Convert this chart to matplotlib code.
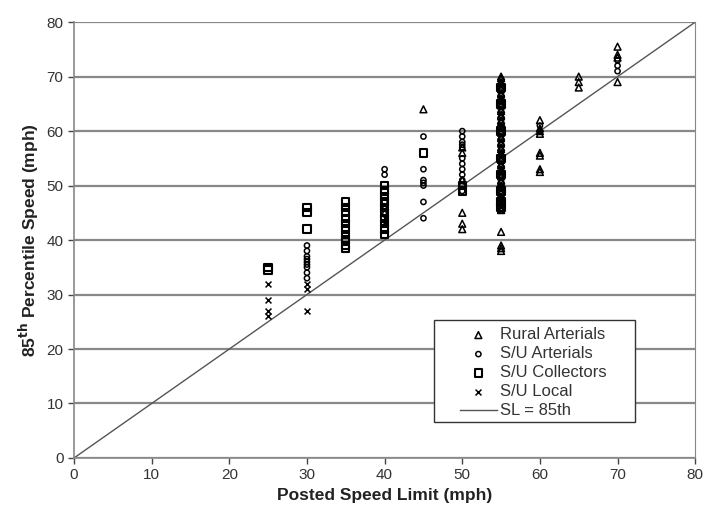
import matplotlib.pyplot as plt
from matplotlib.patches import Rectangle
import numpy as np

plt.rcParams['font.family'] = ['Liberation Sans', 'DejaVu Sans']

# Rural Arterials (triangles)
ra_x = [40, 40, 45] + [50] * 6 + [55] * 55 + [60] * 8 + [65] * 3 + [70] * 4
ra_y = [46, 45, 64,
        57, 56, 51, 45, 43, 42,
        70, 69, 68, 67, 66, 65, 64, 63, 62, 61, 60, 59, 58, 57, 56, 55, 54, 53,
        52, 51, 50, 49, 48, 47, 46, 45.5, 41.5, 39, 38.5, 38,
        69.7, 68.7, 67.7, 66.7, 65.7, 64.7, 63.7, 62.7, 61.7, 60.7, 59.7, 58.7,
        57.7, 56.7, 55.7, 54.7, 53.7, 52.7, 51.7, 50.7, 49.7, 48.7, 47.7, 46.7, 45.7,
        62, 60.5, 60, 59.5, 56, 55.5, 53, 52.5,
        70, 69, 68,
        75.5, 74, 73.5, 69]

# S/U Arterials (circles)
sa_x = [30] * 9 + [40] * 3 + [45] * 7 + [50] * 12 + [55] * 25 + [60] * 2 + [70] * 3
sa_y = [39, 38, 37, 36.5, 36, 35.5, 35, 34, 33,
        53, 52, 47,
        59, 53, 51, 50.5, 50, 47, 44,
        60, 59, 58, 57.5, 57, 55, 54, 53, 52, 51, 50, 49,
        69.5, 68.5, 67.5, 66.5, 65.5, 64.5, 63.5, 62.5, 61.5, 60.5, 59.5, 58.5,
        57.5, 56.5, 55.5, 54.5, 53.5, 52.5, 51.5, 50.5, 49.5, 48.5, 47.5, 46.5, 45.5,
        61, 60,
        73, 72, 71]

# S/U Collectors (squares)
sc_x = [25] * 2 + [30] * 3 + [35] * 10 + [40] * 10 + [45] + [50] * 2 + [55] * 8
sc_y = [35, 34.5,
        46, 45, 42,
        47, 46, 45, 44, 43, 42, 41, 40, 39, 38.5,
        50, 49, 48, 47, 46, 45, 44, 43, 42, 41,
        56,
        50, 49,
        68, 65, 60, 55, 52, 49, 47, 46]

# S/U Local (x)
sl_x = [25, 25, 25, 25, 30, 30, 30, 40, 40, 55, 55]
sl_y = [32, 29, 27, 26, 32, 31, 27, 44, 43, 47, 46]

fig = plt.figure(figsize=(7.07, 5.27), dpi=100)
ax = fig.add_axes([0.1047, 0.131, 0.8786, 0.827])

ax.scatter(ra_x, ra_y, marker='^', s=24, facecolors='none', edgecolors='black', linewidths=1.1, label='Rural Arterials', zorder=3)
ax.scatter(sa_x, sa_y, marker='o', s=14, facecolors='none', edgecolors='black', linewidths=1.1, label='S/U Arterials', zorder=3)
ax.scatter(sc_x, sc_y, marker='s', s=28, facecolors='none', edgecolors='black', linewidths=1.5, label='S/U Collectors', zorder=3)
ax.scatter(sl_x, sl_y, marker='x', s=18, color='black', linewidths=1.1, label='S/U Local', zorder=3)
ax.plot([0, 80], [0, 80], color='#555555', lw=1.0, label='SL = 85th', zorder=2)

ax.set_xlim(0, 80)
ax.set_ylim(0, 80)
ax.set_xticks(np.arange(0, 81, 10))
ax.set_yticks(np.arange(0, 81, 10))
ax.yaxis.grid(True, color='#888888', lw=1.6)
ax.set_axisbelow(True)
ax.spines['top'].set_visible(False)
for s in ['left', 'bottom', 'right']:
    ax.spines[s].set_color('#888888')
    ax.spines[s].set_linewidth(1.2)
ax.spines['right'].set_linewidth(0.8)
ax.tick_params(colors='#444444', labelsize=11, length=4, width=1, labelcolor='#333333')

ax.set_xlabel('Posted Speed Limit (mph)', fontsize=12.5, fontweight='bold', color='#222222')
ax.set_ylabel('85$^{\\mathbf{th}}$ Percentile Speed (mph)', fontsize=12.5, fontweight='bold', color='#222222')

# legend box
ax.add_patch(Rectangle((46.4, 6.6), 25.9, 18.7, facecolor='white', edgecolor='#333333', lw=1.0, zorder=4))
leg = ax.legend(loc='upper left', bbox_to_anchor=(48.0 / 80, 26.4 / 80), fontsize=12,
                frameon=False, handlelength=2.2, handletextpad=0.2,
                labelspacing=0.24, borderpad=0.3, labelcolor='#333333')
leg.set_zorder(5)

fig.savefig('out.png', dpi=100)
